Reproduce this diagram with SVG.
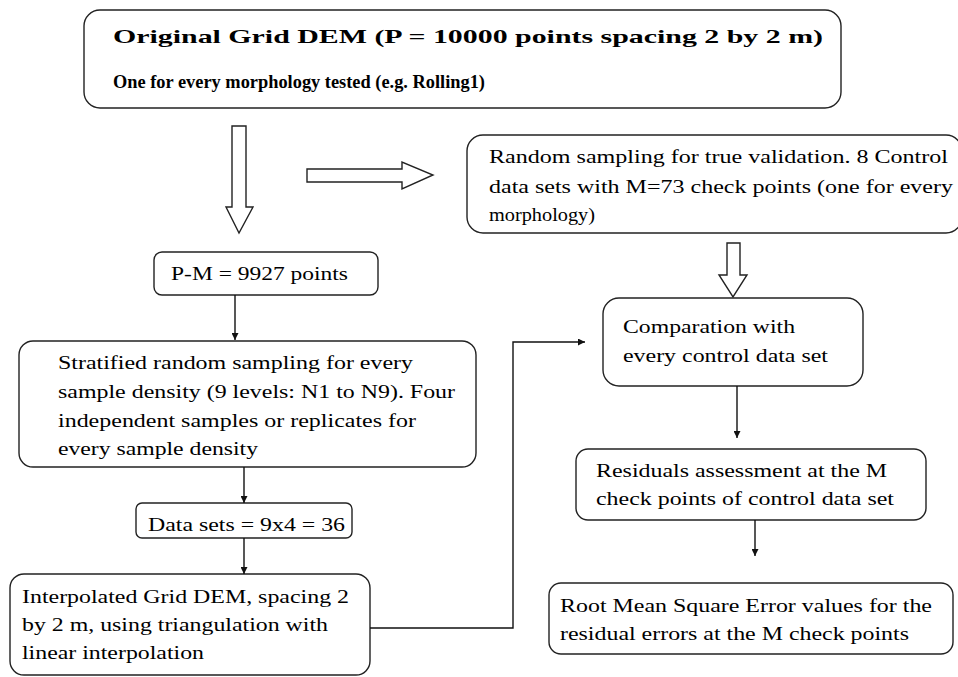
<svg xmlns="http://www.w3.org/2000/svg" width="958" height="677" viewBox="0 0 958 677">
<style>
text{font-family:"Liberation Serif","Times New Roman",serif}
.box{fill:#fff;stroke:#222;stroke-width:1.4}
.t{font-size:19.5px;fill:#000}
.b{font-weight:bold}
.con{fill:none;stroke:#111;stroke-width:1.4}
.hol{fill:#fff;stroke:#222;stroke-width:1.4;stroke-linejoin:miter}
</style>
<defs>
<marker id="ah" viewBox="0 0 10 10" refX="10" refY="5" markerWidth="7" markerHeight="7" markerUnits="userSpaceOnUse" orient="auto">
<path d="M0,0 L10,5 L0,10 Z" fill="#111"/>
</marker>
</defs>
<rect width="958" height="677" fill="#fff"/>

<g id="original">
<rect class="box" x="84" y="10" width="757" height="98" rx="16"/>
<text class="t b" x="113" y="43" font-size="23.5" textLength="710" lengthAdjust="spacingAndGlyphs">Original Grid DEM (P = 10000 points spacing 2 by 2 m)</text>
<text class="t b" x="113" y="88" font-size="18" textLength="372" lengthAdjust="spacingAndGlyphs">One for every morphology tested (e.g. Rolling1)</text>
</g>

<g id="random">
<rect class="box" x="467" y="135" width="495" height="98" rx="16"/>
<text class="t" x="489" y="163" textLength="459" lengthAdjust="spacingAndGlyphs">Random sampling for true validation. 8 Control</text>
<text class="t" x="489" y="193" textLength="464" lengthAdjust="spacingAndGlyphs">data sets with M=73 check points (one for every</text>
<text class="t" x="489" y="221" textLength="106" lengthAdjust="spacingAndGlyphs">morphology)</text>
</g>

<g id="pm">
<rect class="box" x="154" y="252" width="224" height="43" rx="8"/>
<text class="t" x="171" y="280" textLength="177" lengthAdjust="spacingAndGlyphs">P-M = 9927 points</text>
</g>

<g id="stratified">
<rect class="box" x="19" y="341" width="457" height="126" rx="14"/>
<text class="t" x="58" y="369" textLength="355" lengthAdjust="spacingAndGlyphs">Stratified random sampling for every</text>
<text class="t" x="58" y="398" textLength="397" lengthAdjust="spacingAndGlyphs">sample density (9 levels: N1 to N9). Four</text>
<text class="t" x="58" y="427" textLength="358" lengthAdjust="spacingAndGlyphs">independent samples or replicates for</text>
<text class="t" x="58" y="455" textLength="200" lengthAdjust="spacingAndGlyphs">every sample density</text>
</g>

<g id="datasets">
<rect class="box" x="136" y="503" width="216" height="35" rx="6"/>
<text class="t" x="148" y="531" textLength="197" lengthAdjust="spacingAndGlyphs">Data sets = 9x4 = 36</text>
</g>

<g id="interpolated">
<rect class="box" x="10" y="574" width="360" height="101" rx="14"/>
<text class="t" x="22" y="603" textLength="327" lengthAdjust="spacingAndGlyphs">Interpolated Grid DEM, spacing 2</text>
<text class="t" x="22" y="631" textLength="306" lengthAdjust="spacingAndGlyphs">by 2 m, using triangulation with</text>
<text class="t" x="22" y="659" textLength="182" lengthAdjust="spacingAndGlyphs">linear interpolation</text>
</g>

<g id="comparation">
<rect class="box" x="603" y="298" width="260" height="88" rx="16"/>
<text class="t" x="623" y="333" textLength="172" lengthAdjust="spacingAndGlyphs">Comparation with</text>
<text class="t" x="623" y="362" textLength="205" lengthAdjust="spacingAndGlyphs">every control data set</text>
</g>

<g id="residuals">
<rect class="box" x="576" y="449" width="350" height="71" rx="12"/>
<text class="t" x="596" y="477" textLength="291" lengthAdjust="spacingAndGlyphs">Residuals assessment at the M</text>
<text class="t" x="596" y="505" textLength="298" lengthAdjust="spacingAndGlyphs">check points of control data set</text>
</g>

<g id="rmse">
<rect class="box" x="549" y="583" width="404" height="71" rx="12"/>
<text class="t" x="560" y="612" textLength="372" lengthAdjust="spacingAndGlyphs">Root Mean Square Error values for the</text>
<text class="t" x="560" y="640" textLength="349" lengthAdjust="spacingAndGlyphs">residual errors at the M check points</text>
</g>

<g id="connectors">
<polygon class="hol" points="232,126 246,126 246,207 253,207 239,233 226,207 232,207"/>
<polygon class="hol" points="307,169 402,169 402,162 433,175 402,189 402,182 307,182"/>
<polygon class="hol" points="727,243 740,243 740,275 747,275 733,297 719,275 727,275"/>
<line class="con" x1="235" y1="295" x2="235" y2="340" marker-end="url(#ah)"/>
<line class="con" x1="244" y1="467" x2="244" y2="503" marker-end="url(#ah)"/>
<line class="con" x1="244" y1="538" x2="244" y2="574" marker-end="url(#ah)"/>
<polyline class="con" points="370,628 513,628 513,342 585,342" marker-end="url(#ah)"/>
<line class="con" x1="737" y1="386" x2="737" y2="438" marker-end="url(#ah)"/>
<line class="con" x1="755" y1="520" x2="755" y2="556" marker-end="url(#ah)"/>
</g>
</svg>
